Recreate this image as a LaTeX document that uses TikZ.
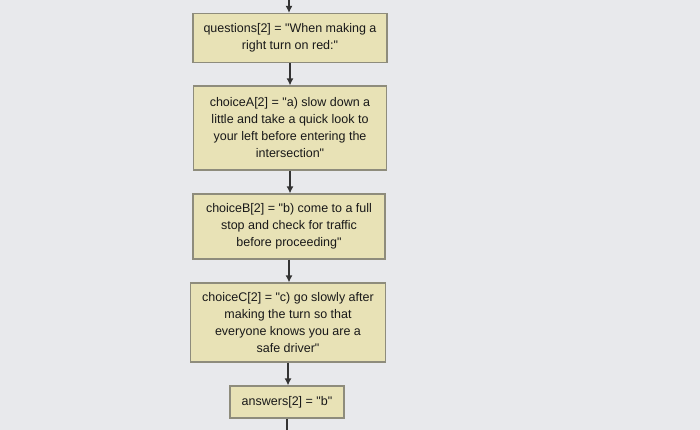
\documentclass[tikz,border=0pt]{standalone}
\usepackage{fontspec}
\setmainfont{Liberation Sans}[Ligatures=TeXOff]
\usetikzlibrary{positioning,arrows.meta}

\definecolor{pagegray}{HTML}{E8E9EC}
\definecolor{boxfill}{HTML}{E8E2B6}
\definecolor{boxline}{HTML}{8E8C7C}
\definecolor{arrowcol}{HTML}{333333}

\tikzset{
    flowbox/.style={draw=boxline, fill=boxfill, line width=1.1pt, align=center,
        inner sep=2pt, font=\fontsize{12.5}{17}\selectfont, text=black!90},
    flowarrow/.style={arrowcol, line width=1.5pt, -{Latex[length=7pt,width=7pt]}}
}

\begin{document}
\begin{tikzpicture}[x=1pt,y=-1pt]
        \fill[pagegray] (0,0) rectangle (700,430);
        \useasboundingbox (0,0) rectangle (700,430);
        \node[flowbox, minimum width=194pt, minimum height=49pt] (question) at (290,38) {questions[2] = "When making a\\right turn on red:"};
        \node[flowbox, minimum width=193pt, minimum height=84pt] (choiceA) at (290,128) {choiceA[2] = "a) slow down a\\little and take a quick look to\\your left before entering the\\intersection"};
        \node[flowbox, minimum width=192pt, minimum height=65pt] (choiceB) at (289,226.5) {choiceB[2] = "b) come to a full\\stop and check for traffic\\before proceeding"};
        \node[flowbox, minimum width=195pt, minimum height=79pt] (choiceC) at (288,322.5) {choiceC[2] = "c) go slowly after\\making the turn so that\\everyone knows you are a\\safe driver"};
        \node[flowbox, minimum width=114pt, minimum height=32pt] (answer) at (287,402) {answers[2] = "b"};
        \coordinate (top) at (289,0);
        \coordinate (bottom) at (287,430);
        \draw[flowarrow] (top) -- (top |- question.north);
        \draw[flowarrow] (question.south) -- (question.south |- choiceA.north);
        \draw[flowarrow] (choiceA.south) -- (choiceA.south |- choiceB.north);
        \draw[flowarrow] (choiceB.south) -- (choiceB.south |- choiceC.north);
        \draw[flowarrow] (choiceC.south) -- (choiceC.south |- answer.north);
        \draw[arrowcol, line width=1.5pt] (answer.south) -- (bottom);
        \end{tikzpicture}
\end{document}
